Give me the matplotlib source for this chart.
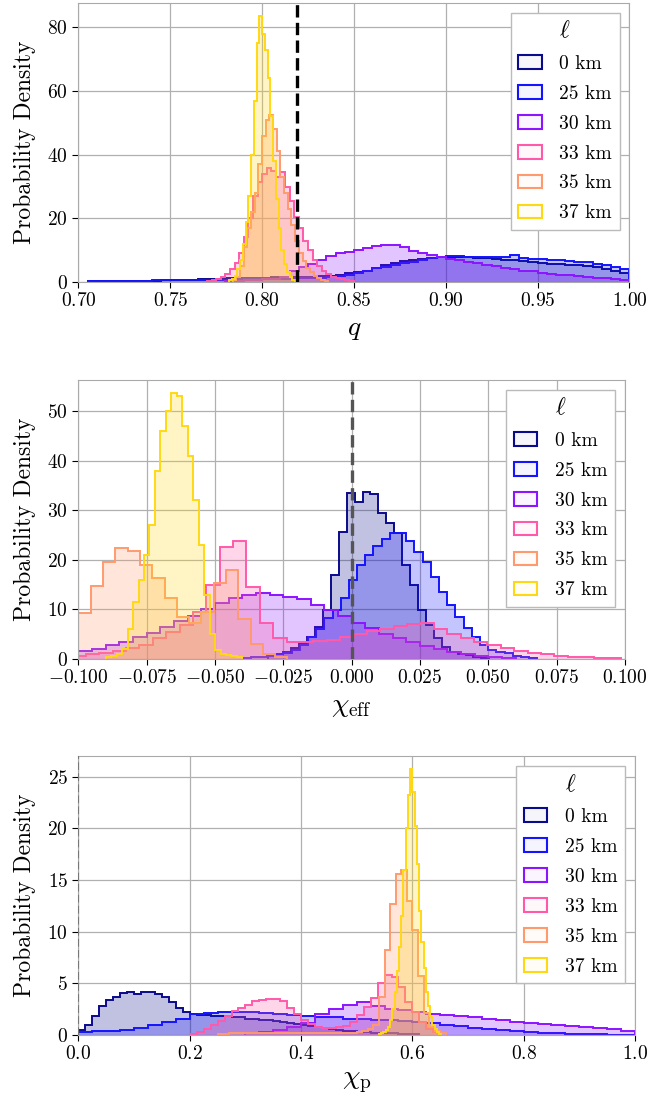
import numpy as np
import matplotlib
matplotlib.use('Agg')
import matplotlib.pyplot as plt
from matplotlib.patches import Patch
from matplotlib.ticker import FuncFormatter, MultipleLocator

# legend labels and colours (one per lens thickness)
labels = ['0 km', '25 km', '30 km', '33 km', '35 km', '37 km']
colors = ['#0a0a8c', '#1414ff', '#8c14ff', '#ff5aaa', '#ff9a6e', '#ffd814']

# ---- q : bin ranges and densities ----
q_ranges = [(0.705, 1.0), (0.705, 1.0), (0.78, 1.0), (0.77, 0.85), (0.784, 0.836), (0.782, 0.818)]
q_0km = [0.2, 0.2, 0.3, 0.3, 0.3, 0.3, 0.4, 0.4, 0.5,
         0.5, 0.6, 0.7, 0.8, 0.9, 1.0, 1.1, 1.2, 1.3, 1.4,
         1.4, 1.5, 1.5, 1.6, 1.6, 1.7, 1.8, 2.0, 2.3, 2.7,
         3.1, 3.6, 4.3, 5.2, 6.0, 6.5, 6.9, 7.2, 7.5, 7.7,
         7.8, 7.8, 7.7, 7.6, 7.4, 7.2, 7.0, 6.8, 6.5, 6.2,
         6.0, 5.8, 5.6, 5.4, 5.2, 5.0, 4.6, 4.2, 3.6, 2.8]
q_25km = [0.2, 0.3, 0.3, 0.3, 0.4, 0.4, 0.4, 0.5, 0.5,
          0.5, 0.5, 0.6, 0.6, 0.6, 0.7, 0.7, 0.8, 0.8, 0.9,
          0.9, 1.0, 1.0, 1.1, 1.2, 1.3, 1.4, 1.6, 1.9, 2.3,
          2.7, 3.3, 4.3, 4.8, 5.3, 5.9, 6.4, 6.9, 7.5, 7.9,
          8.2, 8.2, 8.0, 8.0, 7.9, 7.8, 8.0, 8.6, 7.6, 7.3,
          7.2, 7.0, 6.8, 6.6, 6.4, 6.3, 5.8, 5.3, 4.6, 4.1]
q_30km = [0.3, 0.4, 0.5, 0.6, 0.8, 1.0, 1.5, 3.5, 4.8, 5.5,
          7.0, 8.2, 9.0, 9.5, 10.2, 10.8, 11.2, 11.5, 11.6, 11.0,
          9.8, 9.2, 8.5, 7.8, 7.3, 6.8, 6.4, 6.0, 5.4, 4.9,
          4.4, 4.0, 3.6, 3.3, 2.9, 2.6, 2.3, 2.1, 1.8, 1.6,
          1.3, 1.1, 0.8, 0.5]
q_33km = [0.3, 0.6, 1.0, 1.5, 2.5, 4.0, 6.0, 9.0, 14.0, 20.0,
          27.0, 31.5, 34.0, 35.7, 35.0, 33.0, 34.5, 30.0, 25.5, 20.5,
          17.0, 13.0, 10.0, 7.0, 5.0, 3.5, 2.5, 1.7, 1.2, 0.8,
          0.5, 0.3]
q_35km = [0.5, 1.5, 5.0, 11.0, 17.0, 22.0, 28.0, 37.0, 46.0, 51.0,
          52.5, 48.0, 41.0, 33.0, 28.0, 23.0, 18.0, 13.0, 9.0, 6.5,
          4.5, 3.0, 2.0, 1.2, 0.7, 0.3]
q_37km = [0.5, 1.0, 2.0, 4.0, 7.0, 12.0, 19.0, 27.0, 40.0, 57.0,
          75.0, 83.5, 78.0, 73.0, 64.0, 52.0, 38.0, 26.0, 17.0, 10.0,
          5.5, 3.0, 1.5, 0.7]

# ---- chi_eff ----
chieff_ranges = [(-0.0308, 0.0504), (-0.040, 0.068), (-0.105, 0.060),
                 (-0.1022, 0.0987), (-0.1045, -0.0235), (-0.090, -0.040)]
chieff_0km = [0.6, 0.9, 1.5, 2.2, 3.2, 4.5, 6.5, 9.9, 17.0, 25.7,
              33.4, 31.6, 33.7, 33.3, 29.4, 27.4, 25.4, 19.0, 14.9, 9.9,
              6.9, 4.2, 2.5, 1.5, 1.0, 0.7, 0.4, 0.2]
chieff_25km = [0.2, 0.3, 0.4, 0.6, 0.9, 1.3, 1.8, 2.8, 4.5, 6.0,
               8.2, 9.9, 12.2, 15.9, 19.0, 21.0, 22.7, 24.2, 25.4, 25.4,
               23.7, 21.5, 19.6, 16.6, 13.6, 10.9, 8.5, 6.2, 4.5, 2.8,
               1.8, 1.4, 1.1, 0.6, 0.4, 0.2]
chieff_30km = [1.2, 1.6, 2.0, 2.8, 3.4, 4.5, 5.3, 6.4, 7.6, 8.7,
               10.0, 11.2, 12.2, 13.0, 13.3, 12.8, 12.4, 12.0, 10.8, 9.9,
               8.7, 7.3, 6.2, 5.1, 4.2, 3.4, 2.7, 2.0, 1.4, 0.9,
               0.6, 0.3, 0.2]
chieff_33km = [0.6, 0.9, 1.2, 1.7, 2.2, 2.8, 4.2, 5.5, 6.9, 9.5,
               15.0, 22.6, 23.8, 14.6, 7.2, 4.2, 3.5, 3.4, 3.6, 3.9,
               4.4, 5.0, 5.6, 6.1, 6.6, 7.0, 7.3, 6.0, 5.0, 4.2,
               3.4, 2.8, 2.2, 1.7, 1.3, 0.9, 0.6, 0.4, 0.3, 0.2,
               0.1]
chieff_35km = [7.0, 9.2, 14.8, 19.6, 22.3, 21.8, 19.0, 16.3, 12.2, 8.5,
               7.2, 9.5, 15.3, 18.0, 8.0, 3.0, 1.0, 0.4]
chieff_37km = [0.3, 0.5, 1.0, 2.0, 6.0, 11.5, 16.0, 21.0, 27.0, 38.0,
               46.0, 50.0, 53.6, 53.0, 47.0, 41.0, 32.0, 23.0, 13.0, 5.0,
               1.8, 1.0, 0.7, 0.5, 0.3]

# ---- chi_p ----
chip_ranges = [(0.0, 0.6125), (0.0, 1.0), (0.3, 1.0), (0.2, 0.65), (0.25, 0.66), (0.54, 0.652)]
chip_0km = [0.5, 1.0, 1.8, 2.8, 3.4, 3.7, 4.05, 4.2, 4.0, 4.2,
            4.2, 4.0, 3.7, 3.2, 2.6, 2.2, 2.0, 1.9, 1.9, 1.8,
            1.8, 1.8, 1.7, 1.7, 1.6, 1.6, 1.5, 1.5, 1.4, 1.3,
            1.2, 1.1, 1.0, 0.9, 0.8, 0.7, 0.6, 0.5, 0.4, 0.35,
            0.3, 0.25, 0.2, 0.2, 0.2, 0.15, 0.1, 0.1, 0.1]
chip_25km = [0.3, 0.35, 0.4, 0.5, 0.7, 1.0, 1.3, 1.6, 2.0, 2.1,
             2.2, 2.25, 2.2, 2.1, 2.0, 1.9, 1.8, 1.75, 1.7, 1.6,
             1.55, 1.5, 1.45, 1.4, 1.3, 1.15, 1.0, 0.85, 0.7, 0.6,
             0.45, 0.35, 0.25, 0.2, 0.15, 0.1, 0.08, 0.06, 0.05, 0.03]
chip_30km = [0.2, 0.3, 0.5, 0.8, 1.2, 2.0, 2.5, 2.9, 3.15, 2.8,
             2.5, 2.4, 2.2, 2.0, 1.9, 1.8, 1.7, 1.6, 1.45, 1.3,
             1.2, 1.1, 1.0, 0.9, 0.8, 0.7, 0.55, 0.35]
chip_33km = [0.1, 0.3, 0.6, 1.0, 1.4, 1.8, 2.3, 2.6, 2.9, 3.25,
             3.4, 3.5, 3.5, 3.3, 2.6, 2.0, 1.5, 1.1, 0.8, 0.7,
             0.7, 0.75, 0.9, 1.3, 1.9, 2.7, 3.6, 5.0, 5.8, 5.6,
             4.6, 3.2, 2.2, 1.3, 0.6, 0.25]
chip_35km = [0.1, 0.1, 0.15, 0.15, 0.15, 0.15, 0.15, 0.15, 0.15, 0.15,
             0.15, 0.15, 0.15, 0.15, 0.15, 0.15, 0.15, 0.15, 0.15, 0.15,
             0.15, 0.15, 0.2, 0.2, 0.2,
             0.3, 0.4, 0.6, 1.0, 3.7, 8.2, 12.7, 15.6, 16.0, 13.0,
             10.2, 5.7, 2.1, 0.9, 0.4, 0.2]
chip_37km = [0.1, 0.2, 0.3, 0.5, 0.8, 1.5, 2.5, 4.2, 6.2, 8.5,
             11.5, 16.0, 20.0, 23.2, 25.7, 23.5, 20.2, 16.5, 12.0, 9.0,
             6.5, 4.2, 2.8, 1.8, 1.0, 0.6, 0.3, 0.1]

plt.rcParams['font.family'] = 'serif'
plt.rcParams['font.serif'] = ['cmr10']
plt.rcParams['mathtext.fontset'] = 'cm'
plt.rcParams['axes.unicode_minus'] = False
plt.rcParams['axes.formatter.use_mathtext'] = True


def draw_panel(ax, hists, ranges, xlim, xlabel, xstep, ystep, xfmt, vline, vcolor, vlw):
    for h, (lo, hi), c in zip(hists, ranges, colors):
        edges = np.linspace(lo, hi, len(h) + 1)
        ax.stairs(h, edges, fill=True, color=c, alpha=0.25, linewidth=0)
        ax.stairs(h, edges, color=c, linewidth=1.4)
    ax.axvline(vline, color=vcolor, linestyle='--', linewidth=vlw, zorder=5)
    ax.set_xlim(*xlim)
    ax.set_ylim(0, max(max(h) for h in hists) * 1.05)
    ax.xaxis.set_major_locator(MultipleLocator(xstep))
    ax.yaxis.set_major_locator(MultipleLocator(ystep))
    ax.xaxis.set_major_formatter(FuncFormatter(lambda v, p: '$' + xfmt.format(v) + '$'))
    ax.yaxis.set_major_formatter(FuncFormatter(lambda v, p: '$%d$' % round(v)))
    ax.tick_params(labelsize=14, direction='out', length=4)
    ax.grid(True, color='#b0b0b0', linewidth=0.9)
    ax.set_axisbelow(True)
    for s in ax.spines.values():
        s.set_color('#aaaaaa')
    ax.set_ylabel('Probability Density', fontsize=17, labelpad=8)
    ax.set_xlabel(xlabel, fontsize=20, labelpad=4)
    handles = [Patch(facecolor=matplotlib.colors.to_rgba(c, 0.04), edgecolor=c, linewidth=1.5)
               for c in colors]
    leg = ax.legend(handles, labels, title=r'$\ell$', loc='upper right', fontsize=14,
                    title_fontsize=17, fancybox=False, edgecolor='#bbbbbb', framealpha=1,
                    handlelength=1.2, handleheight=0.7, labelspacing=0.62, handletextpad=0.9,
                    borderpad=0.4)
    leg.get_frame().set_linewidth(1.0)


fig = plt.figure(figsize=(6.48, 11.01), dpi=100)
ax1 = fig.add_axes([0.1211, 0.7439, 0.8502, 0.2534])
ax2 = fig.add_axes([0.1211, 0.4015, 0.8431, 0.2534])
ax3 = fig.add_axes([0.1211, 0.0599, 0.8588, 0.2534])

draw_panel(ax1, [q_0km, q_25km, q_30km, q_33km, q_35km, q_37km], q_ranges,
           (0.70, 1.00), r'$q$', 0.05, 20, '{:.2f}', 0.819, 'black', 2.4)
draw_panel(ax2, [chieff_0km, chieff_25km, chieff_30km, chieff_33km, chieff_35km, chieff_37km],
           chieff_ranges, (-0.1, 0.1), r'$\chi_{\rm eff}$', 0.025, 10, '{:.3f}', 0.0, '#555555', 2.4)
draw_panel(ax3, [chip_0km, chip_25km, chip_30km, chip_33km, chip_35km, chip_37km],
           chip_ranges, (0.0, 1.0), r'$\chi_{\rm p}$', 0.2, 5, '{:.1f}', 0.0, '#777777', 1.5)

fig.savefig('out.png', dpi=100)
